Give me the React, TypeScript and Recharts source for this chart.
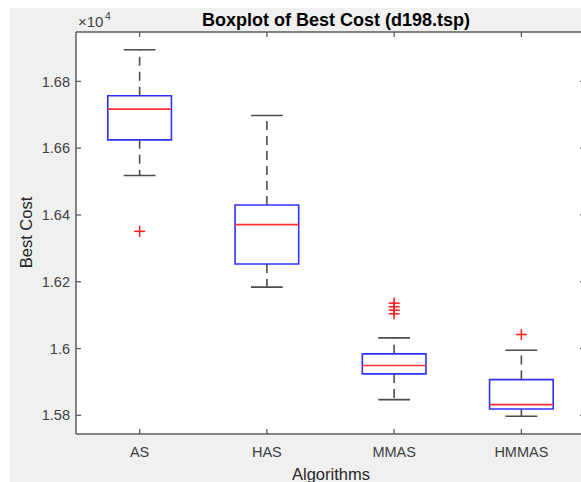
import React from 'react';
import {
  ComposedChart,
  XAxis,
  YAxis,
  Scatter,
  ReferenceArea,
  ReferenceLine,
  CartesianGrid,
} from 'recharts';

// box statistics (values in raw cost units)
const algorithms = ['AS', 'HAS', 'MMAS', 'HMMAS'];
const whiskerHigh = [16895, 16698, 16032, 15995];
const q3 = [16757, 16430, 15984, 15907];
const median = [16717, 16371, 15949, 15832];
const q1 = [16625, 16253, 15924, 15819];
const whiskerLow = [16518, 16184, 15847, 15797];
const outliers = [[16351], [], [16136, 16125, 16115, 16104], [16042]];

const yTicks = [15800, 16000, 16200, 16400, 16600, 16800];
const yDomain = [15744, 16948];
const xTicks = algorithms.map((_, i) => i + 1);
const xDomain = [0.5, algorithms.length + 0.5];

const AXIS = '#5c5c5c';
const TICK_TEXT = '#404040';
const FONT = '"Liberation Sans", Arial, Helvetica, sans-serif';
const TICK_LEN = 5;

const outlierData = outliers.flatMap((vals, i) => vals.map((v) => ({ x: i + 1, y: v })));

const Plus = (props: any) => {
  const { cx, cy } = props;
  if (cx == null || cy == null) return null;
  return (
    <g>
      <line x1={cx - 5.5} x2={cx + 5.5} y1={cy} y2={cy} stroke="#ff1a1a" strokeWidth={1.5} />
      <line x1={cx} x2={cx} y1={cy - 5.5} y2={cy + 5.5} stroke="#ff1a1a" strokeWidth={1.5} />
    </g>
  );
};

const Nothing = () => null;

const fmtY = (v: number) => String(+(v / 10000).toFixed(2));

// MATLAB style: ticks point into the plot box
const BottomTick = (props: any) => {
  const { x, y, payload } = props;
  return (
    <g>
      <line x1={x} x2={x} y1={y} y2={y - TICK_LEN} stroke={AXIS} strokeWidth={1.3} />
      <text x={x} y={y + 12.5} dy="0.71em" textAnchor="middle" fill={TICK_TEXT} fontSize={14.5} fontFamily={FONT}>
        {algorithms[payload.value - 1]}
      </text>
    </g>
  );
};

const LeftTick = (props: any) => {
  const { x, y, payload } = props;
  return (
    <g>
      <line x1={x} x2={x + TICK_LEN} y1={y} y2={y} stroke={AXIS} strokeWidth={1.3} />
      <text x={x - 6} y={y} dy="0.355em" textAnchor="end" fill={TICK_TEXT} fontSize={14.5} fontFamily={FONT}>
        {fmtY(payload.value)}
      </text>
    </g>
  );
};

const TopTick = (props: any) => {
  const { x, y } = props;
  return <line x1={x} x2={x} y1={y} y2={y + TICK_LEN} stroke={AXIS} strokeWidth={1.3} />;
};

const RightTick = (props: any) => {
  const { x, y } = props;
  return <line x1={x} x2={x - TICK_LEN} y1={y} y2={y} stroke={AXIS} strokeWidth={1.3} />;
};

export default function App() {
  return (
    <div
      style={{
        position: 'fixed',
        left: 0,
        top: 0,
        width: 581,
        height: 482,
        overflow: 'hidden',
        background: '#ffffff',
      }}
    >
      <div style={{ position: 'absolute', left: 10, top: 8, width: 600, height: 474, background: '#f0f0f0' }}>
        <ComposedChart width={600} height={474} margin={{ top: 23, right: 24, bottom: 0, left: 0 }}>
          <CartesianGrid fill="#ffffff" horizontal={false} vertical={false} />
          <XAxis
            type="number"
            dataKey="x"
            domain={xDomain}
            ticks={xTicks}
            interval={0}
            height={48}
            tickSize={0}
            tickMargin={0}
            tickLine={false}
            stroke={AXIS}
            strokeWidth={1.5}
            tick={BottomTick}
          />
          <XAxis
            xAxisId="top"
            orientation="top"
            type="number"
            dataKey="x"
            domain={xDomain}
            ticks={xTicks}
            interval={0}
            height={1}
            tickSize={0}
            tickMargin={0}
            tickLine={false}
            stroke={AXIS}
            strokeWidth={1.5}
            tick={TopTick}
          />
          <YAxis
            type="number"
            dataKey="y"
            domain={yDomain}
            ticks={yTicks}
            interval={0}
            width={66}
            tickSize={0}
            tickMargin={0}
            tickLine={false}
            stroke={AXIS}
            strokeWidth={1.5}
            tick={LeftTick}
          />
          <YAxis
            yAxisId="right"
            orientation="right"
            type="number"
            dataKey="y"
            domain={yDomain}
            ticks={yTicks}
            interval={0}
            width={1}
            tickSize={0}
            tickMargin={0}
            tickLine={false}
            axisLine={false}
            stroke={AXIS}
            tick={RightTick}
          />

          {algorithms.map((name, i) => (
            <ReferenceLine
              key={`wu-${name}`}
              segment={[{ x: i + 1, y: q3[i] }, { x: i + 1, y: whiskerHigh[i] }]}
              stroke="#4d4d4d"
              strokeWidth={1.6}
              strokeDasharray="9 6"
            />
          ))}
          {algorithms.map((name, i) => (
            <ReferenceLine
              key={`wl-${name}`}
              segment={[{ x: i + 1, y: q1[i] }, { x: i + 1, y: whiskerLow[i] }]}
              stroke="#4d4d4d"
              strokeWidth={1.6}
              strokeDasharray="9 6"
            />
          ))}
          {algorithms.map((name, i) => (
            <ReferenceLine
              key={`cu-${name}`}
              segment={[{ x: i + 0.875, y: whiskerHigh[i] }, { x: i + 1.125, y: whiskerHigh[i] }]}
              stroke="#4d4d4d"
              strokeWidth={1.6}
            />
          ))}
          {algorithms.map((name, i) => (
            <ReferenceLine
              key={`cl-${name}`}
              segment={[{ x: i + 0.875, y: whiskerLow[i] }, { x: i + 1.125, y: whiskerLow[i] }]}
              stroke="#4d4d4d"
              strokeWidth={1.6}
            />
          ))}
          {algorithms.map((name, i) => (
            <ReferenceArea
              key={`box-${name}`}
              x1={i + 0.75}
              x2={i + 1.25}
              y1={q1[i]}
              y2={q3[i]}
              fill="none"
              fillOpacity={0}
              stroke="#3030ff"
              strokeWidth={1.6}
            />
          ))}
          {algorithms.map((name, i) => (
            <ReferenceLine
              key={`med-${name}`}
              segment={[{ x: i + 0.75, y: median[i] }, { x: i + 1.25, y: median[i] }]}
              stroke="#ff3030"
              strokeWidth={1.6}
            />
          ))}
          <Scatter data={outlierData} dataKey="y" shape={Plus} isAnimationActive={false} legendType="none" />
          {/* invisible series so the mirrored top/right axes get their scales */}
          <Scatter
            xAxisId="top"
            yAxisId="right"
            data={outlierData}
            dataKey="y"
            shape={Nothing}
            isAnimationActive={false}
            legendType="none"
          />
        </ComposedChart>
      </div>

      <svg width={581} height={482} style={{ position: 'absolute', left: 0, top: 0, pointerEvents: 'none' }}>
        <text x={336} y={26} textAnchor="middle" fontFamily={FONT} fontWeight="bold" fontSize={18} fill="#000">
          Boxplot of Best Cost (d198.tsp)
        </text>
        <text x={78} y={27} fontFamily={FONT} fontSize={15} fill={TICK_TEXT}>
          ×10
        </text>
        <text x={105} y={20} fontFamily={FONT} fontSize={10.5} fill={TICK_TEXT}>
          4
        </text>
        <text
          x={31.5}
          y={232.5}
          transform="rotate(-90 31.5 232.5)"
          textAnchor="middle"
          fontFamily={FONT}
          fontSize={16.5}
          fill="#262626"
        >
          Best Cost
        </text>
        <text x={331} y={480} textAnchor="middle" fontFamily={FONT} fontSize={16.5} fill="#262626">
          Algorithms
        </text>
      </svg>
    </div>
  );
}
